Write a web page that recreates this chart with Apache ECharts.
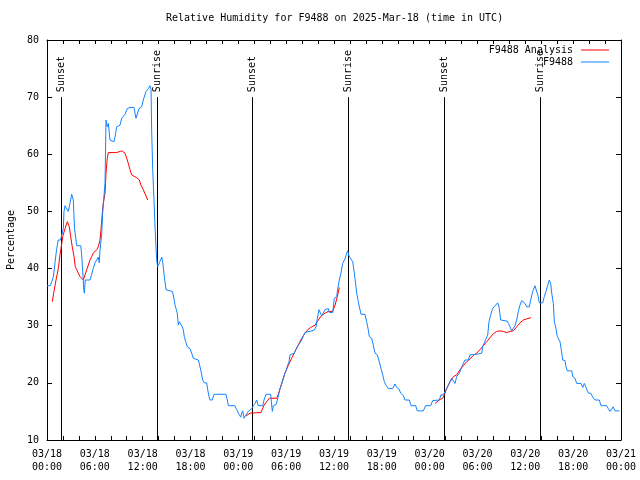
<!DOCTYPE html>
<html>
<head>
<meta charset="utf-8">
<script src="https://cdn.jsdelivr.net/npm/echarts@6/dist/echarts.min.js"></script>
<style>html,body{margin:0;padding:0;background:#fff}#c{width:640px;height:480px}</style>
</head>
<body>
<div id="c"></div>
<script>
// Hours since 03/18 00:00 UTC
var tickLabels = ['03/18\n00:00','03/18\n06:00','03/18\n12:00','03/18\n18:00','03/19\n00:00','03/19\n06:00','03/19\n12:00','03/19\n18:00','03/20\n00:00','03/20\n06:00','03/20\n12:00','03/20\n18:00','03/21\n00:00'];

var eventHours = [1.79, 13.84, 25.75, 37.79, 49.84, 61.88];
var eventLabels = ['Sunset','Sunrise','Sunset','Sunrise','Sunset','Sunrise'];

var obsHours = [0.0,0.4,0.6,0.8,1.0,1.2,1.4,1.7,2.05,2.13,2.26,2.47,2.67,2.89,3.1,3.3,3.45,3.73,4.23,4.33,4.45,4.6,4.68,4.8,5.39,5.6,5.8,6.02,6.23,6.43,6.56,6.65,6.86,6.99,7.28,7.4,7.56,7.69,7.9,7.99,8.4,8.53,8.74,9.16,9.37,9.78,10.07,10.41,10.91,11.16,11.33,11.54,11.88,12.08,12.42,12.71,12.92,13.05,13.13,13.26,13.42,13.55,13.67,13.76,13.88,14.09,14.39,14.51,14.68,14.93,15.01,15.72,15.84,16.06,16.18,16.34,16.47,16.6,16.77,16.97,17.1,17.22,17.4,17.6,17.94,18.15,18.35,18.48,18.98,19.1,19.32,19.53,19.73,20.03,20.16,20.32,20.45,20.73,20.95,22.45,22.62,22.74,23.58,23.8,24.08,24.3,24.42,24.55,24.71,24.96,25.25,25.46,25.68,25.88,26.09,26.3,26.5,27.06,27.22,27.47,28.06,28.26,28.39,28.73,28.89,29.1,29.23,29.44,29.64,29.85,30.07,30.19,30.36,30.48,31.02,31.23,31.52,31.74,31.95,32.15,32.36,32.58,33.49,33.74,33.91,34.12,34.24,34.46,34.66,34.87,35.0,35.29,35.41,35.84,36.04,36.34,36.47,36.67,36.88,37.09,37.38,37.59,37.72,37.88,38.13,38.35,38.55,38.63,38.85,39.05,39.26,39.39,39.89,40.1,40.3,40.43,40.73,40.93,41.14,41.43,41.68,41.9,42.11,42.31,42.52,42.81,43.36,43.65,43.87,44.15,44.37,44.69,44.91,45.45,45.66,46.25,46.45,47.2,47.5,48.13,48.38,49.21,49.42,49.71,50.05,50.34,50.64,50.77,50.97,51.18,51.39,51.72,52.02,52.22,52.43,52.85,53.06,53.9,54.53,54.65,54.85,55.07,55.28,55.44,55.66,55.86,56.07,56.32,56.53,56.7,56.91,57.16,57.74,57.87,58.08,58.29,58.49,58.7,58.92,59.12,59.33,59.55,59.75,59.96,60.17,60.5,60.67,60.93,61.21,61.43,61.5,61.62,61.75,62.18,62.38,62.59,62.81,63.01,63.18,63.31,63.51,63.64,63.85,64.01,64.26,64.35,64.51,64.69,64.98,65.1,65.27,65.82,65.94,66.23,66.44,66.98,67.2,67.4,67.61,67.9,68.2,68.45,68.74,69.28,69.49,70.2,70.4,70.62,70.83,71.03,71.24,71.79];
var obsValues = [37,37,37.7,38.6,41,43.3,45,45,47,50,51,51,50,51.5,53,52,47,44,44,42.7,40.3,36.6,35.7,38,38,39,40,41,41.5,42,41,43.3,46,50,55,66,64.8,65.4,62.5,62.2,62.2,63,64.8,65.1,66.3,67,68,68.2,68.2,66.3,66.3,68,68.3,69.5,71,71.5,72,71.3,64,57.3,52,47.3,43.8,41.5,40.3,41,42,41.2,39,36.3,36,36,35.4,33.6,33,32.2,30.1,30.7,30.4,29.8,29.3,28.1,27.2,26.3,26,25.2,24.3,24,24,23.4,22,20.5,20,20,18.8,17.6,17,17,18,18,17,16,16,15.3,14.5,14,14.7,15.1,13.8,14.1,15,15.3,15.5,16,16.4,17,16,16,17,18,18,15,16,16.2,17,18.2,19,19.8,20.8,21.7,22.4,23.1,23.7,24.9,25.2,25.9,26.6,26.9,27.5,28.2,28.8,29.1,29.2,29.8,31.3,32.8,33,31.7,31.9,32.8,33,33,32.3,32.3,34.8,35.1,36.5,38,39.3,40.9,41.7,42.7,43.1,42.2,42,41.2,39.2,38.3,35.7,34.2,32.8,32,32,30.7,29.3,28.1,27.8,26.6,25.2,24.9,23.7,22.5,21.4,20.2,19.6,19,19,19.8,19.2,18.9,18.2,17.8,17,17,16,16,15.1,15.1,16,16,16.9,17,17.9,17.9,18.8,19.6,20.4,20.8,20.8,19.9,21.1,21.7,22.8,22.8,24,24,24.9,25,25.2,26.3,27,27.2,28.4,30.7,31.9,32.9,33.3,33.3,34,33.3,31,31,30.8,30.4,29.8,29.1,29.1,30,31,32.5,33.6,34.4,34.6,33.9,33.3,33.3,34.5,36,37,37.1,37.1,35.1,34,34,35.1,36,37.1,38,37.4,35.7,33.9,30.7,29.5,28.1,27.9,27.2,25.8,24,23.9,22.8,22.1,22.1,21.1,20.8,19.9,19.9,19.2,19.9,19.2,18.2,18.2,17.5,17,17,16,16,15.5,15,15,15.8,15.1,15.1];

var anaHours = [0.66,0.88,1.13,1.42,1.63,1.76,1.97,2.26,2.55,2.67,2.8,2.97,3.17,3.39,3.55,3.73,3.93,4.14,4.35,4.55,4.77,4.98,5.18,5.39,5.61,5.81,6.23,6.43,6.65,6.77,6.94,7.06,7.28,7.4,7.56,7.69,8.74,9.37,9.57,9.78,10.0,10.2,10.41,10.62,10.83,11.25,11.58,11.79,12.08,12.42,12.63,18.0,24.96,25.46,25.68,26.84,27.22,27.56,27.89,28.81,29.01,29.44,29.85,30.27,30.69,31.11,31.52,31.95,32.36,32.78,33.2,33.62,34.03,34.46,34.87,35.29,35.84,36.13,36.42,36.67,42.0,48.67,49.3,49.64,49.92,50.14,50.55,50.97,51.39,51.81,52.22,52.65,53.06,53.47,53.9,54.31,54.73,55.16,55.57,55.98,56.41,56.82,57.24,57.67,58.08,58.49,58.92,59.33,59.75,60.17,60.71];
var anaValues = [34.2,36,38,40,42.4,43.5,45.6,47,48.2,48.5,47.3,45.6,43.8,42.1,40.3,39.8,39.2,38.6,38.3,38,38.9,39.8,40.6,41.5,42.1,42.7,43.3,43.8,45,46.8,49.7,51.4,53.2,56.7,59.3,60.3,60.3,60.6,60.8,60.2,59.3,58.4,57.3,56.4,56.1,55.9,55.5,54.6,53.8,52.7,52,null,14.2,14.7,14.8,14.8,16.1,16.7,17.3,17.3,18,19.9,21.7,23.1,24.3,25.5,26.6,27.8,28.7,29.4,29.8,30.1,31,31.8,32.2,32.5,32.5,33.6,35.1,36.7,null,16.4,17.1,17.3,18.2,19,20.2,21.1,21.4,22.3,23,23.7,24.2,24.8,25.2,25.8,26.5,27.2,27.9,28.6,29,29.1,29,28.8,29,29.1,29.8,30.5,31,31.2,31.4];

var FONT = 'DejaVu Sans Mono';
function pairs(xs, ys) {
  return xs.map(function (x, i) { return [x, ys[i] == null ? '-' : ys[i]]; });
}

var chart = echarts.init(document.getElementById('c'), null, {renderer: 'canvas'});
var baseX = {
  type: 'value', min: 0, max: 72, interval: 2,
  axisLine: {show: true, onZero: false, lineStyle: {color: '#000', width: 1}},
  axisTick: {show: true, inside: true, length: 4, lineStyle: {color: '#000'}},
  splitLine: {show: false}
};
var baseY = {
  type: 'value', min: 10, max: 80, interval: 10,
  axisLine: {show: true, onZero: false, lineStyle: {color: '#000', width: 1}},
  axisTick: {show: true, inside: true, length: 5, lineStyle: {color: '#000'}},
  splitLine: {show: false}
};
var option = {
  animation: false,
  backgroundColor: '#fff',
  textStyle: {fontFamily: FONT, color: '#000'},
  title: {
    text: 'Relative Humidity for F9488 on 2025-Mar-18 (time in UTC)',
    left: 166, top: 13, padding: 0,
    textStyle: {fontFamily: FONT, fontSize: 10, fontWeight: 'normal', color: '#000'}
  },
  legend: {
    data: ['F9488 Analysis', 'F9488'],
    orient: 'vertical', align: 'right', right: 31, top: 44, padding: 0,
    itemGap: 0, itemWidth: 28, itemHeight: 1, icon: 'rect',
    textStyle: {fontFamily: FONT, fontSize: 10, color: '#000', lineHeight: 12, padding: [0, 3, 0, 0]}
  },
  grid: {left: 47, right: 19, top: 40, bottom: 40, containLabel: false, outerBoundsMode: 'none'},
  xAxis: [
    Object.assign({}, baseX, {
      position: 'bottom',
      axisLabel: {
        show: true, margin: 8, fontFamily: FONT, fontSize: 10, color: '#000', lineHeight: 13,
        formatter: function (v) { return v % 6 === 0 ? tickLabels[v / 6] : ''; }
      }
    }),
    Object.assign({}, baseX, {position: 'top', axisLabel: {show: false}})
  ],
  yAxis: [
    Object.assign({}, baseY, {
      position: 'left',
      name: 'Percentage', nameLocation: 'middle', nameRotate: 90, nameGap: 30,
      nameTextStyle: {fontFamily: FONT, fontSize: 10, color: '#000'},
      axisLabel: {show: true, margin: 8, fontFamily: FONT, fontSize: 10, color: '#000'}
    }),
    Object.assign({}, baseY, {position: 'right', axisLabel: {show: false}})
  ],
  series: [
    {
      name: 'F9488 Analysis', type: 'line', xAxisIndex: 0, yAxisIndex: 0,
      data: pairs(anaHours, anaValues), showSymbol: false, connectNulls: false,
      lineStyle: {color: '#ff0000', width: 1}, itemStyle: {color: '#ff0000'}
    },
    {
      name: 'F9488', type: 'line', xAxisIndex: 0, yAxisIndex: 0,
      data: pairs(obsHours, obsValues), showSymbol: false,
      lineStyle: {color: '#1283ff', width: 1}, itemStyle: {color: '#1283ff'}
    },
    {
      name: 'events', type: 'custom', xAxisIndex: 0, yAxisIndex: 0,
      data: eventHours.map(function (h) { return [h, 70]; }),
      encode: {x: 0, y: 1},
      renderItem: function (params, api) {
        var t = api.value(0);
        var p0 = api.coord([t, 10]);
        var p1 = api.coord([t, 70]);
        var x = Math.round(p0[0]) + 0.5;
        return {
          type: 'group',
          children: [
            {type: 'line', shape: {x1: x, y1: p0[1], x2: x, y2: p1[1]}, style: {stroke: '#000', lineWidth: 1}},
            {type: 'text', x: x, y: p1[1] - 5, rotation: Math.PI / 2,
             style: {text: eventLabels[params.dataIndex], fill: '#000', font: '10px "DejaVu Sans Mono"', align: 'left', verticalAlign: 'middle'}}
          ]
        };
      },
      z: 3
    }
  ]
};
chart.setOption(option);
</script>
</body>
</html>
